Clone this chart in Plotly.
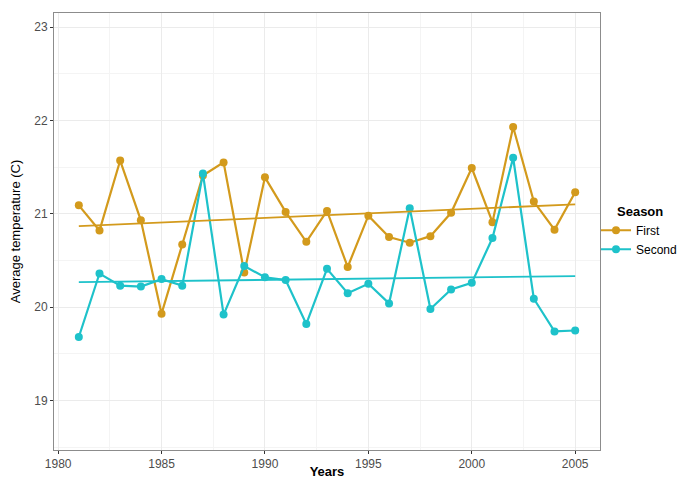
import numpy as np
import plotly.graph_objects as go

years = list(range(1981, 2006))
first = [21.09, 20.82, 21.57, 20.93, 19.93, 20.67, 21.41, 21.55, 20.37, 21.39,
         21.02, 20.70, 21.03, 20.43, 20.98, 20.75, 20.69, 20.76, 21.01, 21.49,
         20.91, 21.93, 21.13, 20.83, 21.23]
second = [19.68, 20.36, 20.23, 20.22, 20.30, 20.23, 21.43, 19.92, 20.44, 20.32,
          20.29, 19.82, 20.41, 20.15, 20.25, 20.04, 21.06, 19.98, 20.19, 20.26,
          20.74, 21.60, 20.09, 19.74, 19.75]
x_ticks = [1980, 1985, 1990, 1995, 2000, 2005]
y_ticks = [19, 20, 21, 22, 23]

c_first = "#D39A1C"
c_second = "#1EC2CA"

fig = go.Figure()
for name, vals, col in [("First", first, c_first), ("Second", second, c_second)]:
    fig.add_trace(go.Scatter(x=years, y=vals, mode="lines+markers", name=name,
                             line=dict(color=col, width=2.2),
                             marker=dict(color=col, size=8)))
for vals, col in [(first, c_first), (second, c_second)]:
    k, b = np.polyfit(years, vals, 1)
    xs = np.array([years[0], years[-1]])
    fig.add_trace(go.Scatter(x=xs, y=k * xs + b, mode="lines", showlegend=False,
                             line=dict(color=col, width=1.8), hoverinfo="skip"))

axis_common = dict(
    showline=True, mirror=True, linecolor="#8c8c8c", linewidth=1,
    gridcolor="#ebebeb", gridwidth=1, zeroline=False, automargin=False,
    ticks="outside", ticklen=3, tickcolor="#333333", tickwidth=1,
    tickfont=dict(family="Liberation Sans, Arial", size=12, color="#4d4d4d"),
)

fig.update_layout(
    width=681, height=479,
    margin=dict(l=54, r=81, t=13, b=29, autoexpand=False),
    paper_bgcolor="white", plot_bgcolor="white",
    font=dict(family="Liberation Sans, Arial", color="black"),
    xaxis=dict(range=[1979.8, 2006.2], tickvals=x_ticks,
               minor=dict(dtick=2.5, tick0=1977.5, showgrid=True, gridcolor="#f4f4f4", ticks=""),
               title=dict(text="<b>Years</b>", font=dict(size=13), standoff=1),
               **axis_common),
    yaxis=dict(range=[18.47, 23.15], tickvals=y_ticks,
               minor=dict(dtick=0.5, tick0=18.5, showgrid=True, gridcolor="#f4f4f4", ticks=""),
               title=dict(text="Average temperature (C)", font=dict(size=13), standoff=10),
               **axis_common),
    legend=dict(x=0.9927, y=0.536, xanchor="left", yanchor="top",
                font=dict(size=12), tracegroupgap=0, itemwidth=30,
                bgcolor="rgba(0,0,0,0)"),
    annotations=[dict(text="<b>Season</b>", xref="paper", yref="paper",
                      x=1.0275, y=0.545, xanchor="left", yanchor="middle",
                      showarrow=False, font=dict(size=13, color="black"))],
)

fig.write_html("out.html", config={"displayModeBar": False},
               post_script="document.body.style.margin='0';document.body.style.overflow='hidden';")
